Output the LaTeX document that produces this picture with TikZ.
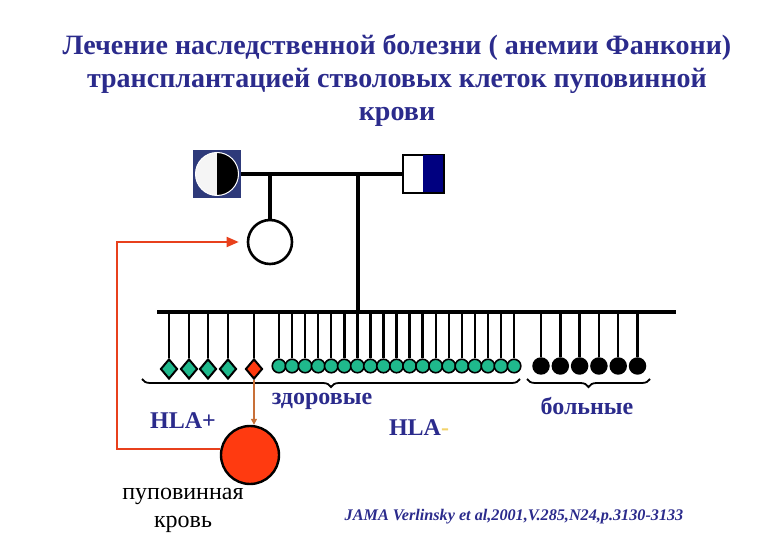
\documentclass[tikz,border=0pt]{standalone}
\usepackage{fontspec}
\setmainfont{Liberation Serif}
\usetikzlibrary{arrows.meta,calc,positioning,shapes.geometric,decorations.pathreplacing}
\definecolor{Navy}{HTML}{2B2B8C}
\definecolor{NavyDark}{HTML}{000080}
\definecolor{MomBg}{HTML}{2E3A7A}
\definecolor{Teal}{HTML}{1FB98C}
\definecolor{RedCell}{HTML}{FF3A10}
\definecolor{ArrowRed}{HTML}{E8401C}
\definecolor{Brownish}{HTML}{C87038}
\definecolor{DashYellow}{HTML}{F2D36A}

\begin{document}
\begin{tikzpicture}[x=1pt,y=-1pt,
  line/.style={line width=3.2pt,black},
  kid/.style={line width=2.4pt,black},
  healthy/.style={circle,fill=Teal,draw=black,line width=1.6pt,minimum size=13.5pt,inner sep=0pt},
  sick/.style={circle,fill=black,minimum size=17.5pt,inner sep=0pt},
  donor/.style={diamond,fill=Teal,draw=black,line width=2pt,minimum width=17pt,minimum height=20pt,inner sep=0pt},
  lbl/.style={Navy,font=\bfseries\fontsize{24}{26}\selectfont},
  brc/.style={decorate,decoration={brace,mirror,amplitude=8pt},line width=1.8pt}]
      \useasboundingbox (0,0) rectangle (780,540);
      \node[Navy,font=\bfseries\fontsize{28}{33}\selectfont,align=center] (title) at (397,80)
        {Лечение наследственной болезни ( анемии Фанкони)\\
         трансплантацией стволовых клеток пуповинной\\ крови};
      % parents
      \node[fill=MomBg,minimum size=48pt,inner sep=0pt] (mom) at (217,174) {};
      \fill[white!92!gray] (mom.center) circle (21.5);
      \fill[black] (217,152.5) arc[start angle=-90,end angle=90,radius=21.5] -- cycle;
      \draw[white,line width=1pt] (mom.center) circle (21.5);
      \node[draw,line width=1.5pt,minimum width=40pt,minimum height=37pt,inner sep=0pt] (dad) at (423,174) {};
      \fill[NavyDark] (dad.north) rectangle (dad.south east);
      \draw[line width=1.5pt] (dad.north west) rectangle (dad.south east);
      \draw[line] (mom.east) -- (dad.west);
      \node[circle,draw,line width=2.6pt,minimum size=44pt] (girl) at (270,242) {};
      \draw[line] (girl.north) -- (girl.north |- mom.east);
      % sibship
      \coordinate (sibL) at (157,312);
      \coordinate (sibR) at (676,312);
      \draw[line] (sibL) -- (sibR);
      \draw[line] (358,174) -- (358,312);
      \foreach \x [count=\i] in {169,189,208,228}{
        \node[donor] (d\i) at (\x,369) {};
        \draw[kid] (d\i.north) -- (d\i.north |- sibL);
      }
      \node[donor,fill=RedCell] (match) at (254,369) {};
      \draw[kid] (match.north) -- (match.north |- sibL);
      \foreach \i in {0,...,18}{
        \node[healthy] (h\i) at ({279+13.06*\i},366) {};
        \draw[kid] (h\i.north) -- (h\i.north |- sibL);
      }
      \foreach \i in {0,...,5}{
        \node[sick] (s\i) at ({541+19.3*\i},366) {};
        \draw[kid] (s\i.north) -- (s\i.north |- sibL);
      }
      % braces
      \draw[brc] (142,379) -- (520,379);
      \draw[brc] (527,379) -- (650,379);
      \node[lbl] (well) at (322,401) {здоровые};
      \node[lbl] (hlap) at (183,421) {HLA+};
      \node[lbl] (hlam) at (419,428) {HLA\textcolor{DashYellow}{-}};
      \node[lbl] (ill) at (587,406) {больные};
      % cord blood
      \node[circle,draw,fill=RedCell,line width=2.4pt,minimum size=58pt] (cord) at (250,455) {};
      \node[font=\fontsize{24}{28}\selectfont,align=center] (cordtxt) at (183,510) {пуповинная\\кровь};
      \draw[Brownish,line width=1.2pt,-{Triangle[width=6pt,length=6pt]}] (match.south) -- (match.south |- cord.north);
      \coordinate (corner) at (117,242);
      \draw[ArrowRed,line width=1.8pt,-{Triangle[width=10pt,length=12pt]},shorten >=8pt] (cord.168) -| (corner) -- (girl.west);
      \node[Navy,font=\bfseries\itshape\fontsize{16.2}{18}\selectfont] (ref) at (514,517) {JAMA Verlinsky et al,2001,V.285,N24,p.3130-3133};
    \end{tikzpicture}
\end{document}
